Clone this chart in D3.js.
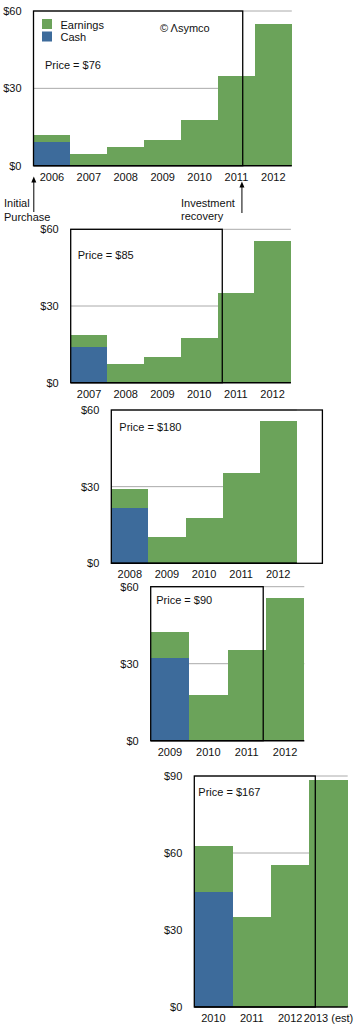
<!DOCTYPE html>
<html>
<head>
<meta charset="utf-8">
<script src="https://cdn.jsdelivr.net/npm/d3@7"></script>
<style>
  html, body { margin: 0; padding: 0; background: #fff; }
  svg text { font-family: "Liberation Sans", Arial, Helvetica, sans-serif; font-size: 11px; fill: #111; }
</style>
</head>
<body>
<svg id="chart" width="362" height="1033"></svg>
<script>
// Per-share earnings + cash. Cash only applies to the purchase year.
const years1 = ["2006", "2007", "2008", "2009", "2010", "2011", "2012"];
const earnings1 = [2.7, 4.5, 7.4, 10.0, 17.7, 34.8, 55.0];
const cash1 = [9.2, 0, 0, 0, 0, 0, 0];

const years2 = ["2007", "2008", "2009", "2010", "2011", "2012"];
const earnings2 = [4.7, 7.3, 10.0, 17.5, 35.0, 55.4];
const cash2 = [14.0, 0, 0, 0, 0, 0];

const years3 = ["2008", "2009", "2010", "2011", "2012"];
const earnings3 = [7.4, 10.3, 17.8, 35.5, 55.7];
const cash3 = [21.7, 0, 0, 0, 0];

const years4 = ["2009", "2010", "2011", "2012"];
const earnings4 = [10.1, 17.8, 35.3, 55.6];
const cash4 = [32.2, 0, 0, 0];

const years5 = ["2010", "2011", "2012", "2013 (est)"];
const earnings5 = [17.9, 35.2, 55.3, 88.4];
const cash5 = [44.8, 0, 0, 0];

// purchase price and where the box (price paid) ends, in "years" from the first bar
const prices = [76, 85, 180, 90, 167];
const recovery = [5.67, 4.13, 5.69, 2.93, 3.155];

const ticks60 = [0, 30, 60];
const ticks90 = [0, 30, 60, 90];

const C = { earn: "#6ba35a", cash: "#3d6b9b", grid: "#aaaaaa" };

const svg = d3.select("#chart");

// layout of each small chart (pixels)
const panels = [
  { years: years1, earn: earnings1, cash: cash1, ticks: ticks60, left: 33.5, top: 11, bottom: 165.7, bw: 36.9, pdx: 11.5, pdy: 58 },
  { years: years2, earn: earnings2, cash: cash2, ticks: ticks60, left: 70.7, top: 229.3, bottom: 382.7, bw: 36.7, pdx: 7, pdy: 30 },
  { years: years3, earn: earnings3, cash: cash3, ticks: ticks60, left: 111.3, top: 410, bottom: 563.3, bw: 37.1, pdx: 8, pdy: 21 },
  { years: years4, earn: earnings4, cash: cash4, ticks: ticks60, left: 150.7, top: 586.7, bottom: 740.7, bw: 38.4, pdx: 5.5, pdy: 17 },
  { years: years5, earn: earnings5, cash: cash5, ticks: ticks90, left: 194.3, top: 776, bottom: 1007, bw: 38.35, pdx: 4, pdy: 20 }
];

function drawPanel(p, k) {
  const n = p.years.length;
  const g = svg.append("g");
  const x = d3.scaleLinear().domain([0, n]).range([p.left, p.left + n * p.bw]);
  const y = d3.scaleLinear().domain([0, d3.max(p.ticks)]).range([p.bottom, p.top]);
  const right = x(n);

  // grid
  g.selectAll("line.grid").data(p.ticks.filter(t => t > 0)).join("line")
    .attr("x1", p.left).attr("x2", right)
    .attr("y1", d => y(d)).attr("y2", d => y(d))
    .attr("stroke", C.grid).attr("stroke-width", 1);

  // bars: cash at the bottom, earnings stacked on top (crisp so neighbours join without seams)
  const bars = g.append("g").attr("shape-rendering", "crispEdges");
  p.years.forEach((yr, i) => {
    if (p.cash[i] > 0) {
      bars.append("rect").attr("x", x(i)).attr("width", x(i + 1) - x(i))
        .attr("y", y(p.cash[i])).attr("height", y(0) - y(p.cash[i]))
        .attr("fill", C.cash);
    }
    bars.append("rect").attr("x", x(i)).attr("width", x(i + 1) - x(i))
      .attr("y", y(p.cash[i] + p.earn[i])).attr("height", y(p.cash[i]) - y(p.cash[i] + p.earn[i]))
      .attr("fill", C.earn);
  });

  // price box
  g.append("rect").attr("x", x(0)).attr("y", y(d3.max(p.ticks)))
    .attr("width", x(recovery[k]) - x(0)).attr("height", y(0) - y(d3.max(p.ticks)))
    .attr("fill", "none").attr("stroke", "#000").attr("stroke-width", 1.3);

  // baseline
  g.append("line").attr("x1", p.left).attr("x2", right)
    .attr("y1", y(0)).attr("y2", y(0))
    .attr("stroke", "#000").attr("stroke-width", 1.5);

  // y labels
  g.selectAll("text.yl").data(p.ticks).join("text")
    .attr("x", p.left - 12).attr("y", d => y(d)).attr("dy", "0.35em")
    .attr("text-anchor", "end").text(d => "$" + d);

  // x labels
  g.selectAll("text.xl").data(p.years).join("text")
    .attr("x", (d, i) => (x(i) + x(i + 1)) / 2).attr("y", y(0) + 15)
    .attr("text-anchor", "middle").text(d => d);

  g.append("text").attr("x", p.left + p.pdx).attr("y", p.top + p.pdy)
    .text("Price = $" + prices[k]);

  return { x, y };
}

const scales = panels.map(drawPanel);

// legend and credit in the first chart
const lg = svg.append("g");
lg.append("rect").attr("x", 42).attr("y", 19).attr("width", 10).attr("height", 10).attr("fill", C.earn);
lg.append("rect").attr("x", 42).attr("y", 31.5).attr("width", 10).attr("height", 10).attr("fill", C.cash);
lg.append("text").attr("x", 60.5).attr("y", 29).text("Earnings");
lg.append("text").attr("x", 60.5).attr("y", 40.5).text("Cash");
lg.append("text").attr("x", 160).attr("y", 32).text("\u00A9 \u039Bsymco");

// arrows under the first chart
function arrow(xp, tip, end) {
  lg.append("line").attr("x1", xp).attr("x2", xp).attr("y1", tip + 4).attr("y2", end)
    .attr("stroke", "#000").attr("stroke-width", 1);
  lg.append("path").attr("d", `M${xp},${tip} L${xp - 2.5},${tip + 6} L${xp + 2.5},${tip + 6} Z`).attr("fill", "#000");
}
const s1 = scales[0];
arrow(s1.x(0) + 0.3, 176.5, 212);
arrow(s1.x(recovery[0]) - 0.8, 181.5, 213);
lg.append("text").attr("x", 4).attr("y", 207).text("Initial");
lg.append("text").attr("x", 4).attr("y", 221).text("Purchase");
lg.append("text").attr("x", 181).attr("y", 206.5).text("Investment");
lg.append("text").attr("x", 181).attr("y", 219.5).text("recovery");
</script>
</body>
</html>
